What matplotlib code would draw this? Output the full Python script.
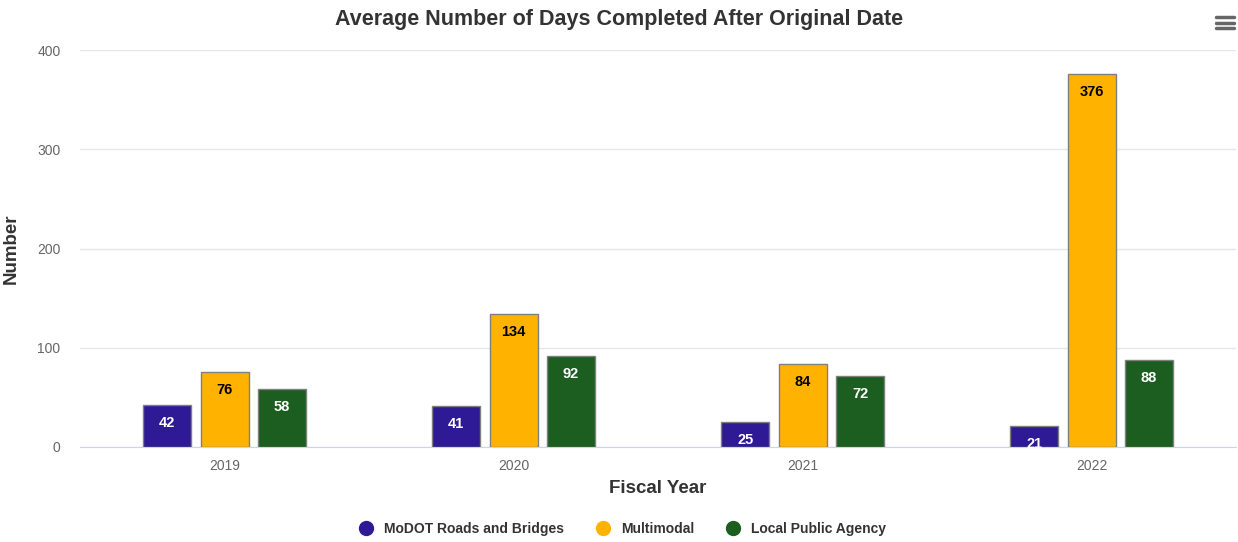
import matplotlib
matplotlib.use("Agg")
import matplotlib.pyplot as plt
from matplotlib.lines import Line2D
import numpy as np

years = ["2019", "2020", "2021", "2022"]
modot = [42, 41, 25, 21]
multimodal = [76, 134, 84, 376]
lpa = [58, 92, 72, 88]

series_names = ["MoDOT Roads and Bridges", "Multimodal", "Local Public Agency"]
colors = ["#2f1a96", "#ffb300", "#1c5e20"]
label_colors = ["white", "black", "white"]

plt.rcParams["font.family"] = ["Liberation Sans", "DejaVu Sans"]

fig = plt.figure(figsize=(12.38, 5.42), dpi=100)
ax = fig.add_axes([0.0646, 0.1753, 0.934, 0.7324])

x = np.arange(len(years))
width = 0.166
offsets = [-0.1985, 0, 0.1985]

for vals, name, col, lcol, off in zip([modot, multimodal, lpa], series_names,
                                      colors, label_colors, offsets):
    bars = ax.bar(x + off, vals, width, color=col, edgecolor="#7f7f7f",
                  linewidth=1, label=name, zorder=3)
    for b, v in zip(bars, vals):
        ax.annotate(str(v), (b.get_x() + b.get_width() / 2, v),
                    xytext=(0, -18), textcoords="offset pixels",
                    ha="center", va="center", fontsize=10.5,
                    fontweight="bold", color=lcol, zorder=4)

ax.set_xlim(-0.5, 3.5)
ax.set_ylim(0, 400)
ax.set_yticks([0, 100, 200, 300, 400])
ax.set_xticks(x)
ax.set_xticklabels(years)
ax.grid(axis="y", color="#e6e6e6", linewidth=1, zorder=0)
ax.set_axisbelow(True)
for s in ["top", "right", "left"]:
    ax.spines[s].set_visible(False)
ax.spines["bottom"].set_color("#ccd6eb")
ax.tick_params(axis="y", length=0, labelcolor="#666666", labelsize=10, pad=14)
ax.tick_params(axis="x", length=0, labelcolor="#666666", labelsize=10, pad=9)

ax.set_ylabel("Number", fontsize=13.5, fontweight="bold", color="#333333")
ax.yaxis.set_label_coords(-0.052, 0.5)
ax.set_xlabel("Fiscal Year", fontsize=13.5, fontweight="bold", color="#333333", labelpad=5)

fig.suptitle("Average Number of Days Completed After Original Date",
             fontsize=15.5, fontweight="bold", color="#333333", y=0.983)

handles = [Line2D([0], [0], marker="o", linestyle="none", markersize=10,
                  markerfacecolor=c, markeredgecolor=c) for c in colors]
leg = fig.legend(handles, series_names, loc="center", bbox_to_anchor=(0.5, 0.024),
                 ncol=3, frameon=False, fontsize=10, handletextpad=0.3,
                 columnspacing=1.8)
for t in leg.get_texts():
    t.set_color("#333333")
    t.set_fontweight("bold")

# menu icon
for yy in [0.948, 0.958, 0.968]:
    fig.add_artist(Line2D([0.9825, 0.9965], [yy, yy], color="#666666",
                          linewidth=2.5, solid_capstyle="round"))

fig.savefig("out.png", dpi=100)
